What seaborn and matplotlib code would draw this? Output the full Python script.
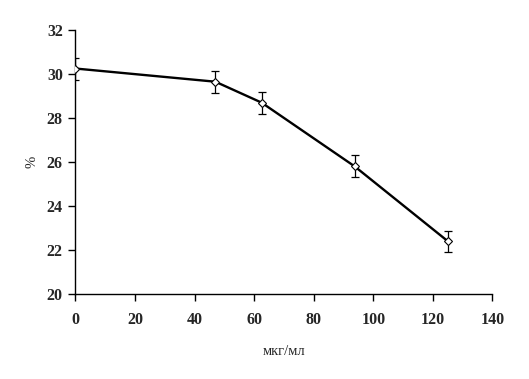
import matplotlib
matplotlib.use("Agg")
import matplotlib.pyplot as plt
import seaborn as sns
import pandas as pd

conc = [0, 47, 62.5, 93.75, 125]
percent = [30.25, 29.65, 28.7, 25.8, 22.4]
errors = [0.5, 0.5, 0.5, 0.5, 0.47]
x_ticks = [0, 20, 40, 60, 80, 100, 120, 140]
y_ticks = [20, 22, 24, 26, 28, 30, 32]

sns.set_style("white")
plt.rcParams['font.family'] = ['Liberation Serif', 'DejaVu Serif']

df = pd.DataFrame({"x": conc, "y": percent, "e": errors})

fig = plt.figure(figsize=(5.29, 3.79), dpi=100)
ax = fig.add_axes([0.1424, 0.2243, 0.7886, 0.6965])

ax.errorbar(df["x"], df["y"], yerr=df["e"], fmt="none", ecolor="black",
            elinewidth=0.9, capsize=2.6, capthick=0.9, zorder=2)
sns.lineplot(data=df, x="x", y="y", ax=ax, color="black", linewidth=1.7,
             marker="D", markersize=4, markerfacecolor="white",
             markeredgecolor="black", markeredgewidth=0.8, zorder=3)

ax.set_xlim(0, 140)
ax.set_ylim(20, 32)
ax.set_xticks(x_ticks)
ax.set_yticks(y_ticks)
ax.set_xticklabels([str(t) for t in x_ticks], fontsize=11.5, fontweight="bold")
ax.set_yticklabels([str(t) for t in y_ticks], fontsize=11.5, fontweight="bold")
ax.tick_params(axis="both", direction="out", length=5, width=1, color="black",
               bottom=True, left=True)
ax.tick_params(axis="x", pad=8)
ax.tick_params(axis="y", pad=4)
for s in ["top", "right"]:
    ax.spines[s].set_visible(False)
for s in ["left", "bottom"]:
    ax.spines[s].set_color("black")
    ax.spines[s].set_linewidth(1)

ax.set_xlabel("мкг/мл", fontsize=10.5, labelpad=12)
ax.set_ylabel("%", fontsize=10.5, labelpad=6)

fig.savefig("out.png", dpi=100)
